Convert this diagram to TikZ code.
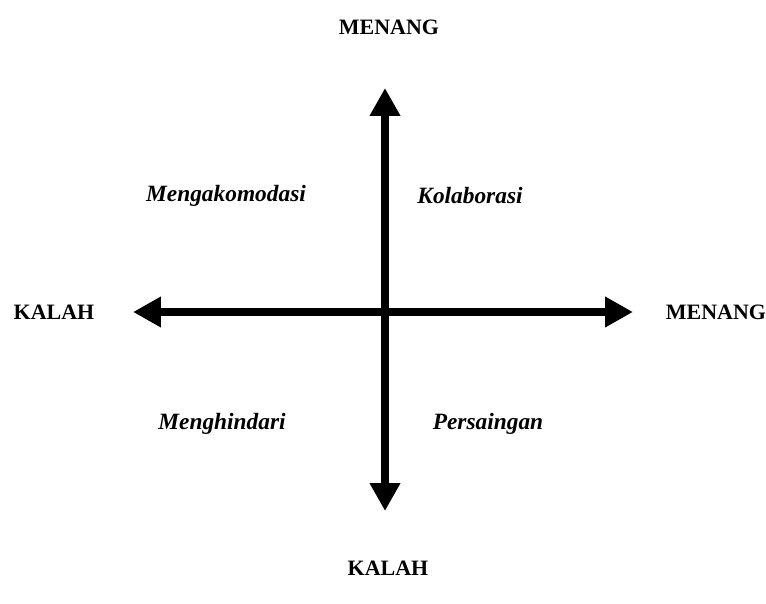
\documentclass[tikz,border=0pt]{standalone}
\usepackage{fontspec}
\setmainfont{Liberation Serif}
\usetikzlibrary{arrows.meta,positioning}
\tikzset{
  pole/.style={font=\fontsize{12.5}{14}\selectfont\bfseries, inner sep=0pt},
  style name/.style={font=\fontsize{13.3}{15}\selectfont\bfseries\itshape, inner sep=0pt},
  axis/.style={{Triangle[length=0.56cm,width=0.58cm]}-{Triangle[length=0.56cm,width=0.58cm]},
    line width=0.16cm, draw=black}
}

\begin{document}
\begin{tikzpicture}[x=0.02cm,y=-0.02cm]
  \useasboundingbox (0,0) rectangle (766,604);
  % ends of the two axes
  \coordinate (west) at (133,312);
  \coordinate (east) at (633,312);
  \coordinate (north) at (385,88);
  \coordinate (south) at (385,511);
  \draw[axis] (west)--(east);
  \draw[axis] (south)--(north);
  % poles
  \node[pole] (wintop) at (389,27) {MENANG};
  \node[pole] (losebot) at (388,568) {KALAH};
  \node[pole] (loseleft) at (54,312) {KALAH};
  \node[pole] (winright) at (716,312) {MENANG};
  % quadrants
  \node[style name] (akomodasi) at (226,196) {Mengakomodasi};
  \node[style name] (kolaborasi) at (470,196) {Kolaborasi};
  \node[style name] (hindar) at (222,424) {Menghindari};
  \node[style name] (saing) at (488,424) {Persaingan};
\end{tikzpicture}
\end{document}
